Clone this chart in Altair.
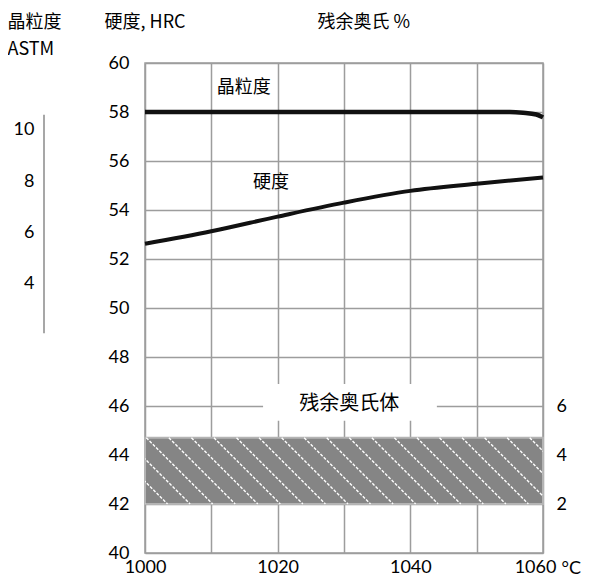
import altair as alt
import pandas as pd
import numpy as np

# ---------------- data ----------------
hard_temp = [1000, 1010, 1020, 1030, 1040, 1050, 1060]
hard_hrc = [52.62, 53.13, 53.73, 54.3, 54.78, 55.07, 55.33]

grain_temp = [1000, 1030, 1050, 1055, 1057, 1059, 1060]
grain_hrc = [58.0, 58.0, 58.0, 58.0, 57.97, 57.9, 57.78]

ra_temp = [1000, 1060]
ra_low_pct = 2.0
ra_high_pct = 4.7

x_ticks = [1000, 1010, 1020, 1030, 1040, 1050, 1060]
hrc_ticks = [40, 42, 44, 46, 48, 50, 52, 54, 56, 58, 60]
pct_ticks = [2, 4, 6]
grain_ticks = [4, 6, 8, 10]
grain_bar = [10.6, 2.05]

label_text = ["晶粒度", "硬度"]
label_temp = [1014.9, 1019.0]
label_hrc = [59.0, 55.09]

ra_label = "残余奥氏体"
ra_label_temp = 1030.8
ra_label_hrc = 46.1
ra_box_temp = [1017.8, 1044.0]
ra_box_hrc = [46.9, 45.4]

# hatch pattern for the retained-austenite band (decoration)
hatch_step = 3.4
hatch_run = 10.0

CJK = "Noto Sans CJK SC"
NUM = "Lato"
INK = "#000000"
GRID = "#9d9d9d"

x_scale = alt.Scale(domain=[1000, 1060], nice=False, zero=False)
hrc_scale = alt.Scale(domain=[40, 60], nice=False, zero=False)
pct_scale = alt.Scale(domain=[0, 20], nice=False, zero=False)
grain_scale = alt.Scale(domain=[-6.55, 12.62], nice=False, zero=False)

x_axis = alt.Axis(
    values=x_ticks, format="d",
    labelExpr="datum.value % 20 == 0 ? datum.label : ''",
    grid=True, labelPadding=5, labelFlush=False,
    labelOffset={"condition": {"test": "datum.value == 1060", "value": -8}, "value": 0},
    title="°C", titleX=416, titleY=15, titleAlign="left", titleBaseline="middle",
    titleFont=NUM,
)

# ---------------- HRC group ----------------
hard_df = pd.DataFrame({"t": hard_temp, "v": hard_hrc})
grain_df = pd.DataFrame({"t": grain_temp, "v": grain_hrc})
lab_df = pd.DataFrame({"t": label_temp, "v": label_hrc, "s": label_text})
box_df = pd.DataFrame({"t": [ra_box_temp[0]], "t2": [ra_box_temp[1]],
                       "v": [ra_box_hrc[0]], "v2": [ra_box_hrc[1]]})
ra_lab_df = pd.DataFrame({"t": [ra_label_temp], "v": [ra_label_hrc], "s": [ra_label]})

hrc_axis = alt.Axis(values=hrc_ticks, grid=True, orient="left", labelPadding=16,
                    title="硬度, HRC", titleAngle=0, titleAlign="left",
                    titleBaseline="middle", titleX=-41, titleY=-41)

hard_line = alt.Chart(hard_df).mark_line(
    color="#111111", strokeWidth=4, interpolate="monotone", strokeCap="butt"
).encode(
    x=alt.X("t:Q", scale=x_scale, axis=x_axis),
    y=alt.Y("v:Q", scale=hrc_scale, axis=hrc_axis),
)

grain_line = alt.Chart(grain_df).mark_line(
    color="#111111", strokeWidth=4.5, interpolate="monotone", strokeCap="butt"
).encode(
    x=alt.X("t:Q", scale=x_scale),
    y=alt.Y("v:Q", scale=hrc_scale),
)

box = alt.Chart(box_df).mark_rect(color="white").encode(
    x=alt.X("t:Q", scale=x_scale), x2="t2:Q",
    y=alt.Y("v:Q", scale=hrc_scale), y2="v2:Q",
)

ra_text = alt.Chart(ra_lab_df).mark_text(
    font=CJK, fontSize=20, color=INK, baseline="middle", align="center"
).encode(
    x=alt.X("t:Q", scale=x_scale), y=alt.Y("v:Q", scale=hrc_scale), text="s:N"
)

lab_text = alt.Chart(lab_df).mark_text(
    font=CJK, fontSize=18, color=INK, baseline="middle", align="center"
).encode(
    x=alt.X("t:Q", scale=x_scale), y=alt.Y("v:Q", scale=hrc_scale), text="s:N"
)

hrc_group = alt.layer(hard_line, grain_line, box, ra_text, lab_text)

# ---------------- retained austenite (%) group ----------------
band_df = pd.DataFrame({"t": [ra_temp[0]], "t2": [ra_temp[1]],
                        "v": [ra_low_pct], "v2": [ra_high_pct]})
starts = np.arange(ra_temp[0] - hatch_run, ra_temp[1] + 0.001, hatch_step)
hatch_df = pd.DataFrame({"t": starts, "t2": starts + hatch_run,
                         "v": ra_high_pct, "v2": ra_low_pct})

pct_axis = alt.Axis(values=pct_ticks, grid=False, orient="right", labelPadding=13,
                    labelAlign="left",
                    title="残余奥氏 %", titleAngle=0, titleAlign="left",
                    titleBaseline="middle", titleX=-226, titleY=-41)

band = alt.Chart(band_df).mark_rect(
    color="#858585", stroke="#b4b4b4", strokeWidth=2
).encode(
    x=alt.X("t:Q", scale=x_scale), x2="t2:Q",
    y=alt.Y("v:Q", scale=pct_scale, axis=pct_axis), y2="v2:Q",
)

hatch = alt.Chart(hatch_df).mark_rule(
    color="white", strokeWidth=1.4, strokeDash=[3, 1.6], clip=True
).encode(
    x=alt.X("t:Q", scale=x_scale), x2="t2:Q",
    y=alt.Y("v:Q", scale=pct_scale), y2="v2:Q",
)

pct_group = alt.layer(band, hatch)

# ---------------- grain size (ASTM) group ----------------
gbar_df = pd.DataFrame({"v": [grain_bar[0]], "v2": [grain_bar[1]]})
grain_axis = alt.Axis(values=grain_ticks, grid=False, orient="left", offset=108,
                      labelPadding=3,
                      title=["晶粒度", "ASTM"], titleAngle=0, titleAlign="left",
                      titleBaseline="middle", titleLineHeight=27,
                      titleX=-30, titleY=-41)

gbar = alt.Chart(gbar_df).mark_rule(color="#8a8a8a", strokeWidth=1.5).encode(
    x=alt.value(-101),
    y=alt.Y("v:Q", scale=grain_scale, axis=grain_axis), y2="v2:Q",
)

chart = alt.layer(pct_group, hrc_group, gbar).resolve_scale(
    y="independent"
).properties(
    width=398, height=490,
    autosize=alt.AutoSizeParams(type="none"),
    padding={"left": 137, "top": 55, "right": 38, "bottom": 23},
).configure_view(
    stroke=GRID, strokeWidth=1.5
).configure_axis(
    gridColor=GRID, gridWidth=1.5, domain=False, ticks=False, tickSize=0,
    labelFont=NUM, labelFontSize=18, labelColor=INK,
    titleFont=CJK, titleFontSize=18, titleFontWeight="normal", titleColor=INK,
)

chart.save("out.html", embed_options={"renderer": "svg", "actions": False})
